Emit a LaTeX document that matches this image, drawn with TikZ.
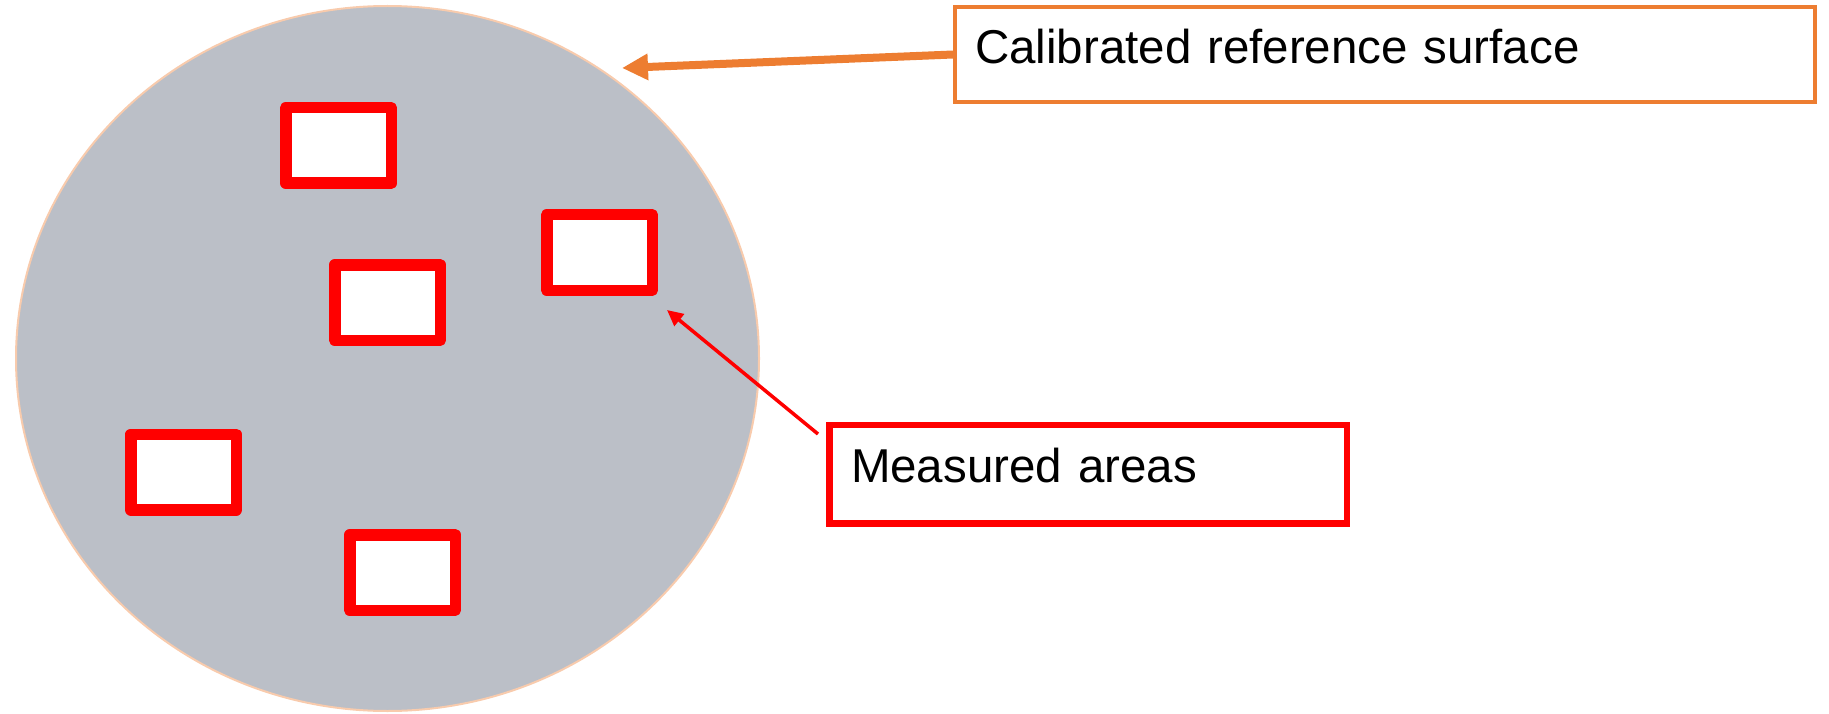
\documentclass[tikz,border=0pt]{standalone}
\usepackage{fontspec}
\setmainfont{Liberation Sans}
\usetikzlibrary{arrows.meta,shapes.geometric}
\definecolor{surfgray}{RGB}{187,191,199}
\definecolor{surfedge}{RGB}{248,203,173}
\definecolor{calorange}{RGB}{237,125,49}
\definecolor{mred}{RGB}{255,0,0}
\tikzset{
  area/.style={draw=mred, fill=white, line width=11.5pt, line join=round,
    rectangle, minimum width=105.5pt, minimum height=75.5pt, inner sep=0pt},
  labeltext/.style={font=\fontsize{47.5}{56}\selectfont, text=black, align=left},
}
\begin{document}
\begin{tikzpicture}[x=1pt,y=-1pt]
\useasboundingbox (0,0) rectangle (1829,714);
% calibrated reference surface
\node (surf) [ellipse, draw=surfedge, fill=surfgray, line width=2pt,
  minimum width=743pt, minimum height=705pt, inner sep=0pt] at (387.5,358.5) {};
% measured areas
\node (a1) [area] at (338.5,145.5) {};
\node (a2) [area] at (599.5,252.5) {};
\node (a3) [area] at (387.5,302.5) {};
\node (a4) [area] at (183.5,472) {};
\node (a5) [area] at (402.5,572.5) {};
% label boxes
\node (cal) [labeltext, draw=calorange, line width=4pt, rectangle,
  text width=820pt, inner xsep=20pt, inner ysep=0pt,
  text height=35pt, text depth=16pt,
  minimum width=860pt, minimum height=95pt] at (1385,54.5)
  {Calibrated reference surface};
\node (meas) [labeltext, draw=mred, line width=6.5pt, rectangle,
  text width=474.5pt, inner xsep=21.5pt, inner ysep=0pt,
  text height=35pt, text depth=19pt,
  minimum width=517.5pt, minimum height=98.5pt] at (1088.25,474.25)
  {Measured areas};
% arrow end points
\coordinate (caltip) at (622,68);
\coordinate (meastail) at (818,434);
\coordinate (meastip) at (667,310);
% arrows
\draw[calorange, line width=8pt, -{Triangle[length=26pt,width=25pt]}] (cal.west) -- (caltip);
\draw[mred, line width=3.5pt, -{Triangle[length=16pt,width=15pt]}] (meastail) -- (meastip);
\end{tikzpicture}
\end{document}
